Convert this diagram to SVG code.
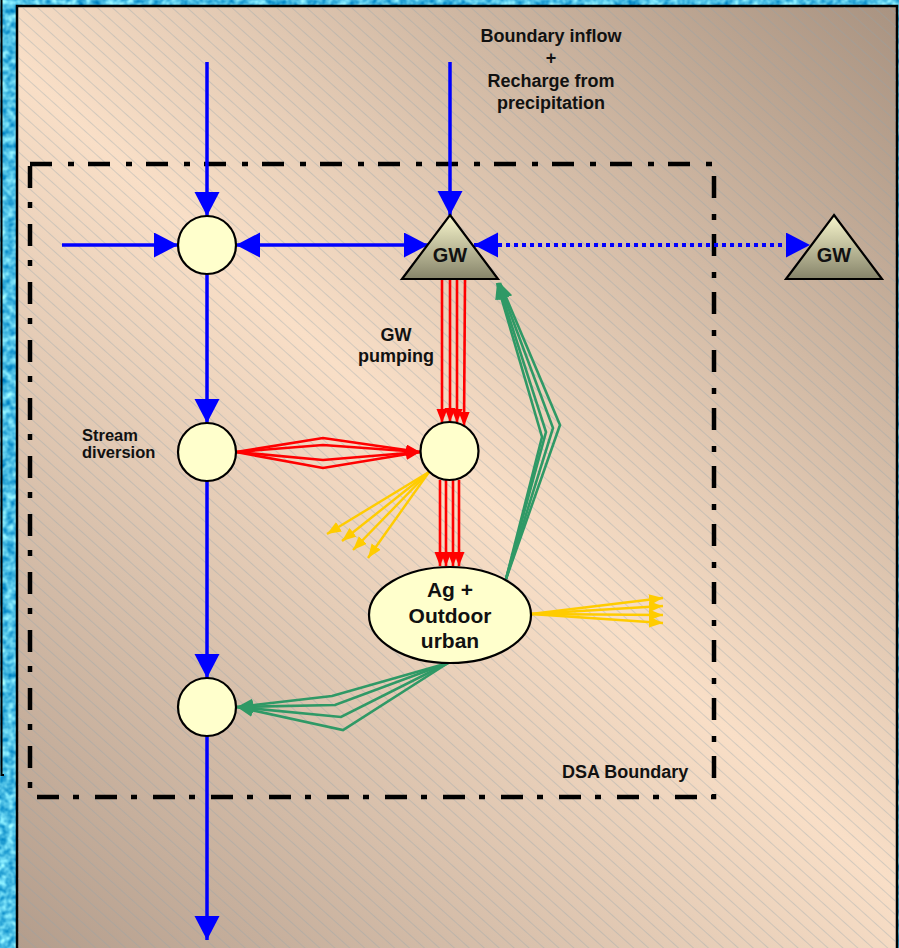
<svg xmlns="http://www.w3.org/2000/svg" width="899" height="948" viewBox="0 0 899 948">
<defs>
<filter id="tex" x="0" y="0" width="100%" height="100%" color-interpolation-filters="sRGB">
<feTurbulence type="fractalNoise" baseFrequency="0.14" numOctaves="2" seed="5"/>
<feColorMatrix type="matrix" values="0.9 0 0 0 -0.15  0.7 0 0 0 0.4  0.4 0 0 0 0.7  0 0 0 0 1"/>
</filter>
<linearGradient id="panel" gradientUnits="userSpaceOnUse" x1="17" y1="948" x2="897" y2="6">
<stop offset="0" stop-color="#b39d8c"/>
<stop offset="0.5" stop-color="#f9dfc7"/>
<stop offset="1" stop-color="#a99381"/>
</linearGradient>
<pattern id="hatch" width="10" height="10" patternUnits="userSpaceOnUse" patternTransform="rotate(42)">
<line x1="0" y1="0.5" x2="10" y2="0.5" stroke="#8ea2ac" stroke-width="0.7" stroke-opacity="0.5"/>
</pattern>
<linearGradient id="tri" x1="0" y1="0" x2="0" y2="1">
<stop offset="0" stop-color="#f8f6cc"/>
<stop offset="1" stop-color="#86846a"/>
</linearGradient>
<marker id="ab" markerUnits="userSpaceOnUse" markerWidth="26" markerHeight="26" refX="24" refY="12.5" orient="auto-start-reverse">
<path d="M0,0 L24,12.5 L0,25 z" fill="#0000ff"/>
</marker>
<marker id="ar" markerUnits="userSpaceOnUse" markerWidth="16" markerHeight="12" refX="14" refY="5.5" orient="auto">
<path d="M0,0 L14,5.5 L0,11 z" fill="#ff0000"/>
</marker>
<marker id="ay" markerUnits="userSpaceOnUse" markerWidth="16" markerHeight="12" refX="14" refY="5.5" orient="auto">
<path d="M0,0 L14,5.5 L0,11 z" fill="#ffcc00"/>
</marker>
<marker id="ag" markerUnits="userSpaceOnUse" markerWidth="18" markerHeight="14" refX="16" refY="6.5" orient="auto">
<path d="M0,0 L16,6.5 L0,13 z" fill="#2f9966"/>
</marker>
<style>
.node{fill:#ffffcc;stroke:#000;stroke-width:2.2}
.tri{fill:url(#tri);stroke:#000;stroke-width:2.2}
.t{font-family:"Liberation Sans",Arial,sans-serif;font-weight:bold;fill:#111}
.blue{fill:none;stroke:#0000ff;stroke-width:3.5;marker-end:url(#ab)}
.red{fill:none;stroke:#ff0000;stroke-width:2.6;marker-end:url(#ar)}
.yel{fill:none;stroke:#ffcc00;stroke-width:2.4;marker-end:url(#ay)}
.grn{fill:none;stroke:#2f9966;stroke-width:2.6;marker-end:url(#ag)}
</style>
</defs>

<rect x="0" y="0" width="899" height="948" fill="#40b4e0"/>
<rect x="0" y="0" width="899" height="948" filter="url(#tex)"/>
<path d="M1.5,0 V775 H4" fill="none" stroke="#000" stroke-width="2"/>
<rect x="17" y="6" width="880" height="950" fill="url(#panel)" stroke="#000" stroke-width="2.5"/>
<rect x="18" y="7" width="878" height="941" fill="url(#hatch)"/>

<rect id="dsa-boundary" x="30" y="164" width="684" height="633" fill="none" stroke="#000" stroke-width="4.5" stroke-dasharray="22 16 6 14"/>

<g id="connectors">
<path class="blue" d="M207,62 V216"/>
<path class="blue" d="M62,245 H178"/>
<path class="blue" d="M236,245 H428" marker-start="url(#ab)"/>
<path class="blue" d="M450,62 V215"/>
<path d="M474,245 H810" fill="none" stroke="#0000ff" stroke-width="4" stroke-dasharray="4 4" marker-start="url(#ab)" marker-end="url(#ab)"/>
<path class="blue" d="M207,274 V423"/>
<path class="blue" d="M207,481 V678"/>
<path class="blue" d="M207,736 V940"/>

<path class="red" d="M442,280 V423"/>
<path class="red" d="M450,280 V422"/>
<path class="red" d="M457,280 V423"/>
<path class="red" d="M465,280 L464,426"/>

<path class="red" d="M440,480 V566"/>
<path class="red" d="M446,480 V566"/>
<path class="red" d="M453,480 V566"/>
<path class="red" d="M459,480 V566"/>

<path class="red" d="M236,452 L323,438 L420,452"/>
<path class="red" d="M236,452 L323,445 L420,452"/>
<path class="red" d="M236,452 L323,460 L420,452"/>
<path class="red" d="M236,452 L323,468 L420,452"/>

<path class="yel" d="M429,472 L327,534"/>
<path class="yel" d="M429,472 L342,541"/>
<path class="yel" d="M429,472 L353,550"/>
<path class="yel" d="M429,472 L368,558"/>

<path class="yel" d="M531,614 L663,598"/>
<path class="yel" d="M531,614 L663,606"/>
<path class="yel" d="M531,614 L663,615"/>
<path class="yel" d="M531,614 L663,623"/>

<path class="grn" d="M506,579 L542,437 L497,283"/>
<path class="grn" d="M506,579 L546,432 L498,283"/>
<path class="grn" d="M506,579 L553,428 L499,283"/>
<path class="grn" d="M506,579 L560,425 L500,283"/>

<path class="grn" d="M448,663 L332,696 L237,707"/>
<path class="grn" d="M448,663 L335,705 L237,707"/>
<path class="grn" d="M448,663 L341,717 L237,707"/>
<path class="grn" d="M448,663 L343,730 L237,707"/>
</g>

<g id="node-c1"><circle class="node" cx="207" cy="245" r="29"/></g>
<g id="node-c2"><circle class="node" cx="207" cy="452" r="29"/></g>
<g id="node-c3"><circle class="node" cx="449.5" cy="451" r="29"/></g>
<g id="node-c4"><circle class="node" cx="207" cy="707" r="29"/></g>
<g id="node-gw">
<path class="tri" d="M450,215 L498,279 L402,279 z"/>
<text class="t" x="450" y="262" font-size="20" text-anchor="middle">GW</text>
</g>
<g id="node-gw2">
<path class="tri" d="M834,215 L882,279 L786,279 z"/>
<text class="t" x="834" y="262" font-size="20" text-anchor="middle">GW</text>
</g>
<g id="node-ag">
<ellipse class="node" cx="450" cy="615" rx="81" ry="48"/>
<text class="t" font-size="21" text-anchor="middle"><tspan x="450" y="597">Ag +</tspan><tspan x="450" y="623">Outdoor</tspan><tspan x="450" y="648">urban</tspan></text>
</g>

<g id="labels">
<text class="t" font-size="18" text-anchor="middle"><tspan x="551" y="42">Boundary inflow</tspan><tspan x="551" y="64">+</tspan><tspan x="551" y="87">Recharge from</tspan><tspan x="551" y="109">precipitation</tspan></text>
<text class="t" font-size="18" text-anchor="middle"><tspan x="396" y="341">GW</tspan><tspan x="396" y="362">pumping</tspan></text>
<text class="t" font-size="16.5"><tspan x="82" y="441">Stream</tspan><tspan x="82" y="458">diversion</tspan></text>
<text class="t" x="562" y="778" font-size="18">DSA Boundary</text>
</g>
</svg>
